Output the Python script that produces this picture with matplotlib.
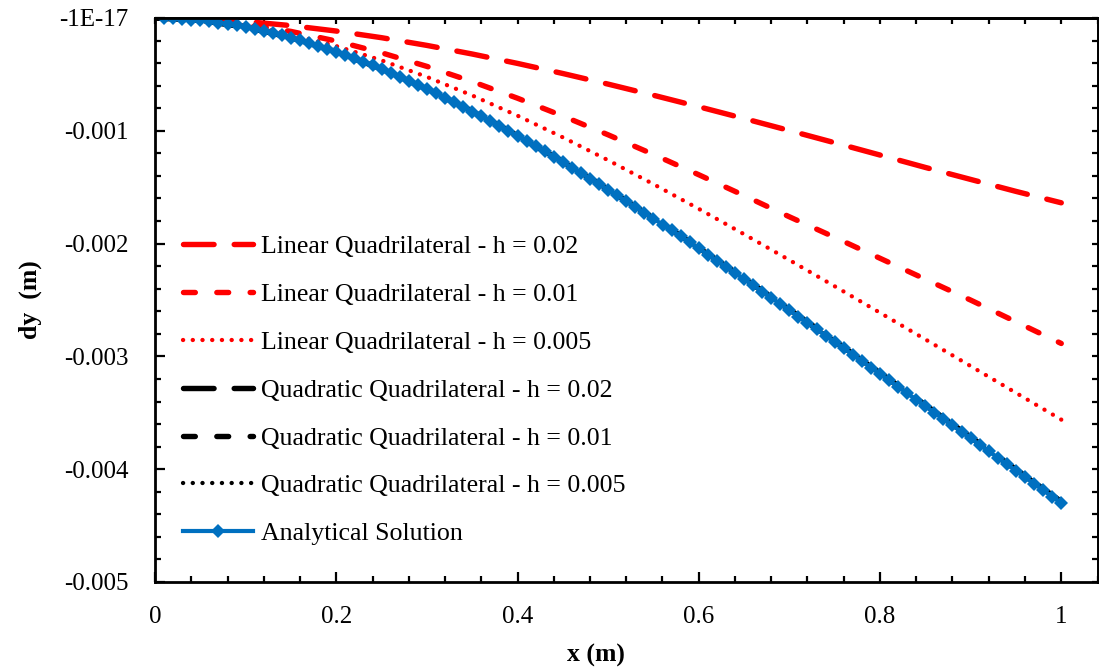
import matplotlib
matplotlib.use("Agg")
import matplotlib.pyplot as plt
from matplotlib.ticker import MultipleLocator

plt.rcParams['font.family'] = ['Liberation Serif', 'DejaVu Serif']
plt.rcParams['lines.scale_dashes'] = False

# Analytical cantilever deflection, sampled every 0.01 m
x_analytical = [
    0.01, 0.02, 0.03, 0.04, 0.05, 0.06, 0.07, 0.08, 0.09, 0.10,
    0.11, 0.12, 0.13, 0.14, 0.15, 0.16, 0.17, 0.18, 0.19, 0.20,
    0.21, 0.22, 0.23, 0.24, 0.25, 0.26, 0.27, 0.28, 0.29, 0.30,
    0.31, 0.32, 0.33, 0.34, 0.35, 0.36, 0.37, 0.38, 0.39, 0.40,
    0.41, 0.42, 0.43, 0.44, 0.45, 0.46, 0.47, 0.48, 0.49, 0.50,
    0.51, 0.52, 0.53, 0.54, 0.55, 0.56, 0.57, 0.58, 0.59, 0.60,
    0.61, 0.62, 0.63, 0.64, 0.65, 0.66, 0.67, 0.68, 0.69, 0.70,
    0.71, 0.72, 0.73, 0.74, 0.75, 0.76, 0.77, 0.78, 0.79, 0.80,
    0.81, 0.82, 0.83, 0.84, 0.85, 0.86, 0.87, 0.88, 0.89, 0.90,
    0.91, 0.92, 0.93, 0.94, 0.95, 0.96, 0.97, 0.98, 0.99, 1.00,
]
dy_analytical = [
    -0.0000009, -0.0000034, -0.0000076, -0.0000134, -0.0000208,
    -0.0000297, -0.0000402, -0.0000522, -0.0000656, -0.0000804,
    -0.0000966, -0.0001142, -0.0001332, -0.0001534, -0.0001749,
    -0.0001976, -0.0002216, -0.0002467, -0.0002730, -0.0003004,
    -0.0003290, -0.0003586, -0.0003892, -0.0004209, -0.0004535,
    -0.0004871, -0.0005217, -0.0005572, -0.0005936, -0.0006308,
    -0.0006689, -0.0007078, -0.0007475, -0.0007880, -0.0008292,
    -0.0008711, -0.0009138, -0.0009571, -0.0010011, -0.0010458,
    -0.0010910, -0.0011369, -0.0011833, -0.0012303, -0.0012778,
    -0.0013259, -0.0013744, -0.0014235, -0.0014730, -0.0015229,
    -0.0015733, -0.0016241, -0.0016753, -0.0017268, -0.0017788,
    -0.0018311, -0.0018837, -0.0019366, -0.0019898, -0.0020434,
    -0.0020972, -0.0021512, -0.0022055, -0.0022601, -0.0023148,
    -0.0023698, -0.0024250, -0.0024804, -0.0025359, -0.0025916,
    -0.0026475, -0.0027035, -0.0027596, -0.0028159, -0.0028723,
    -0.0029288, -0.0029853, -0.0030420, -0.0030988, -0.0031556,
    -0.0032125, -0.0032695, -0.0033265, -0.0033836, -0.0034407,
    -0.0034979, -0.0035551, -0.0036123, -0.0036695, -0.0037268,
    -0.0037841, -0.0038414, -0.0038987, -0.0039560, -0.0040133,
    -0.0040707, -0.0041280, -0.0041853, -0.0042427, -0.0043000,
]

# FEM nodal results along the beam axis
x_fem = [0.00, 0.05, 0.10, 0.15, 0.20, 0.25, 0.30, 0.35, 0.40, 0.45, 0.50,
         0.55, 0.60, 0.65, 0.70, 0.75, 0.80, 0.85, 0.90, 0.95, 1.00]
dy_lin_h002 = [0.0, -0.0000080, -0.0000310, -0.0000673, -0.0001157, -0.0001746,
               -0.0002429, -0.0003192, -0.0004026, -0.0004920, -0.0005863,
               -0.0006848, -0.0007867, -0.0008912, -0.0009978, -0.0011058,
               -0.0012149, -0.0013247, -0.0014311, -0.0015371, -0.0016383]
dy_lin_h001 = [0.0, -0.0000141, -0.0000547, -0.0001189, -0.0002043, -0.0003084,
               -0.0004290, -0.0005638, -0.0007111, -0.0008689, -0.0010356,
               -0.0012096, -0.0013895, -0.0015741, -0.0017623, -0.0019445,
               -0.0021301, -0.0023156, -0.0025007, -0.0026930, -0.0028853]
dy_lin_h0005 = [0.0, -0.0000172, -0.0000666, -0.0001448, -0.0002488, -0.0003755,
                -0.0005223, -0.0006866, -0.0008659, -0.0010580, -0.0012610,
                -0.0014728, -0.0016919, -0.0019167, -0.0021459, -0.0023782,
                -0.0026129, -0.0028489, -0.0030858, -0.0033230, -0.0035604]
dy_quad_h002 = [0.0, -0.0000207, -0.0000802, -0.0001744, -0.0002995, -0.0004521,
                -0.0006289, -0.0008267, -0.0010426, -0.0012740, -0.0015184,
                -0.0017734, -0.0020372, -0.0023079, -0.0025838, -0.0028637,
                -0.0031462, -0.0034304, -0.0037156, -0.0040013, -0.0042871]
dy_quad_h001 = [0.0, -0.0000207, -0.0000802, -0.0001745, -0.0002997, -0.0004524,
                -0.0006293, -0.0008272, -0.0010433, -0.0012748, -0.0015194,
                -0.0017746, -0.0020385, -0.0023094, -0.0025855, -0.0028655,
                -0.0031482, -0.0034326, -0.0037180, -0.0040039, -0.0042899]
dy_quad_h0005 = [0.0, -0.0000208, -0.0000803, -0.0001747, -0.0003000, -0.0004529,
                 -0.0006300, -0.0008281, -0.0010444, -0.0012761, -0.0015210,
                 -0.0017765, -0.0020407, -0.0023119, -0.0025883, -0.0028686,
                 -0.0031516, -0.0034363, -0.0037220, -0.0040082, -0.0042946]

x_tick_values = [0.0, 0.2, 0.4, 0.6, 0.8, 1.0]
x_tick_labels = ['0', '0.2', '0.4', '0.6', '0.8', '1']
y_tick_values = [-1e-17, -0.001, -0.002, -0.003, -0.004, -0.005]
y_tick_labels = ['-1E-17', '-0.001', '-0.002', '-0.003', '-0.004', '-0.005']

series_labels = [
    'Linear Quadrilateral - h = 0.02',
    'Linear Quadrilateral - h = 0.01',
    'Linear Quadrilateral - h = 0.005',
    'Quadratic Quadrilateral - h = 0.02',
    'Quadratic Quadrilateral - h = 0.01',
    'Quadratic Quadrilateral - h = 0.005',
    'Analytical Solution',
]

W, H = 1099, 669
fig = plt.figure(figsize=(W / 100, H / 100), dpi=100)
ax = fig.add_axes([155 / W, 1 - 582 / H, (1097.5 - 155) / W, (582 - 18) / H])

long_dash = (0, (22, 14.5))
med_dash = (0, (8.5, 15.5))
dots = (0, (0.1, 6.9))
dash_style = dict(lw=3.9, dash_capstyle='round', solid_capstyle='round')
dot_style = dict(lw=3.1, dash_capstyle='round', solid_capstyle='round')

red = '#FF0000'
ax.plot(x_fem, dy_lin_h002, color=red, ls=long_dash, label=series_labels[0], **dash_style)
ax.plot(x_fem, dy_lin_h001, color=red, ls=med_dash, label=series_labels[1], **dash_style)
ax.plot(x_fem, dy_lin_h0005, color=red, ls=dots, label=series_labels[2], **dot_style)
ax.plot(x_fem, dy_quad_h002, color='black', ls=long_dash, label=series_labels[3], **dash_style)
ax.plot(x_fem, dy_quad_h001, color='black', ls=med_dash, label=series_labels[4], **dash_style)
ax.plot(x_fem, dy_quad_h0005, color='black', ls=dots, label=series_labels[5], **dot_style)
ax.plot(x_analytical, dy_analytical, color='#0070C0', lw=3.0, marker='D', ms=7.5,
        markeredgewidth=0, label=series_labels[6])

ax.set_xlim(0, 1.04)
ax.set_ylim(-0.005, -1e-17)

ax.set_xticks(x_tick_values)
ax.set_xticklabels(x_tick_labels)
ax.xaxis.set_minor_locator(MultipleLocator(0.04))
ax.set_yticks(y_tick_values)
ax.set_yticklabels(y_tick_labels)
ax.yaxis.set_minor_locator(MultipleLocator(0.0002))

for side in ['left', 'bottom', 'top', 'right']:
    ax.spines[side].set_linewidth(2)

ax.tick_params(axis='both', which='major', direction='in', length=7, width=1.6,
               labelsize=18, top=False, right=False)
ax.tick_params(axis='both', which='minor', direction='in', length=4, width=1.6,
               top=False, right=False)
ax.tick_params(axis='x', which='major', pad=17)
ax.tick_params(axis='y', which='major', pad=19)

top_ax = ax.secondary_xaxis('top')
top_ax.xaxis.set_major_locator(MultipleLocator(0.04))
top_ax.tick_params(direction='in', length=4.5, width=1.6, labeltop=False)
top_ax.spines['top'].set_linewidth(2)

right_ax = ax.secondary_yaxis('right')
right_ax.yaxis.set_major_locator(MultipleLocator(0.0002))
right_ax.tick_params(direction='in', length=4.5, width=1.6, labelright=False)
right_ax.spines['right'].set_linewidth(2)

fig.text(30 / W, 1 - 300 / H, 'dy  (m)', rotation=90, ha='center', va='center',
         fontsize=18.5, fontweight='bold')
fig.text(596 / W, 1 - 655 / H, 'x (m)', ha='center', va='center',
         fontsize=18.5, fontweight='bold')

ax.legend(loc='upper left', bbox_to_anchor=(183 / W, 1 - 235 / H),
          bbox_transform=fig.transFigure, frameon=False, fontsize=18.6,
          handlelength=2.72, handletextpad=0.3, labelspacing=0.96,
          borderpad=0, borderaxespad=0, numpoints=1)

fig.savefig('out.png', dpi=100)
